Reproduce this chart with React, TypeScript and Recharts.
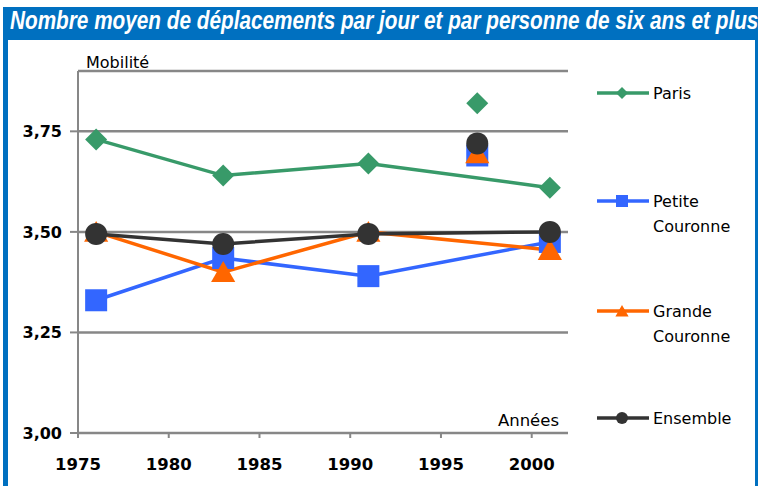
import { CartesianGrid, ComposedChart, Line, XAxis, YAxis } from 'recharts';

// Enquêtes globales transport, mobilité moyenne (déplacements / jour / personne)
const years = [1976, 1983, 1991, 2001];
const paris = [3.73, 3.64, 3.67, 3.61];
const petiteCouronne = [3.33, 3.435, 3.39, 3.475];
const grandeCouronne = [3.5, 3.4, 3.5, 3.455];
const ensemble = [3.495, 3.47, 3.495, 3.5];

// 1997: separate survey, points only (not joined to the lines)
const year1997 = 1997;
const paris1997 = 3.82;
const petiteCouronne1997 = 3.69;
const grandeCouronne1997 = 3.695;
const ensemble1997 = 3.72;

const xTicks = [1975, 1980, 1985, 1990, 1995, 2000];
const yTicks = [3, 3.25, 3.5, 3.75];

type Shape = 'diamond' | 'square' | 'triangle' | 'circle';

const series: { key: string; name: string; color: string; shape: Shape }[] = [
  { key: 'paris', name: 'Paris', color: '#389a69', shape: 'diamond' },
  { key: 'petite', name: 'Petite Couronne', color: '#3366ff', shape: 'square' },
  { key: 'grande', name: 'Grande Couronne', color: '#ff6600', shape: 'triangle' },
  { key: 'ensemble', name: 'Ensemble', color: '#333333', shape: 'circle' }
];

const rows: Record<string, number>[] = years.map((year, i) => ({
  year,
  paris: paris[i],
  petite: petiteCouronne[i],
  grande: grandeCouronne[i],
  ensemble: ensemble[i]
}));
rows.push({
  year: year1997,
  paris97: paris1997,
  petite97: petiteCouronne1997,
  grande97: grandeCouronne1997,
  ensemble97: ensemble1997
});
rows.sort((a, b) => a.year - b.year);

const FONT = '"DejaVu Sans", sans-serif';
const BLUE_FRAME = '#0070c0';
const GREY = '#878787';

function Marker({ shape, color, cx, cy, r }: { shape: Shape; color: string; cx: number; cy: number; r: number }) {
  if (shape === 'diamond') {
    return <polygon points={`${cx},${cy - r} ${cx + r},${cy} ${cx},${cy + r} ${cx - r},${cy}`} fill={color} />;
  }
  if (shape === 'square') {
    return <rect x={cx - r} y={cy - r} width={r * 2} height={r * 2} fill={color} />;
  }
  if (shape === 'triangle') {
    return <polygon points={`${cx},${cy - r} ${cx + r * 1.1},${cy + r * 0.9} ${cx - r * 1.1},${cy + r * 0.9}`} fill={color} />;
  }
  return <circle cx={cx} cy={cy} r={r} fill={color} />;
}

function dotFor(shape: Shape, color: string) {
  return (props: any) => {
    const { cx, cy, index, value } = props;
    if (value == null || cy == null || Number.isNaN(cy)) return <g key={`d-${index}`} />;
    return (
      <g key={`d-${index}`}>
        <Marker shape={shape} color={color} cx={cx} cy={cy} r={11} />
      </g>
    );
  };
}

const legendRowY = [93, 201, 311, 418];

export default function App() {
  return (
    <div style={{ position: 'absolute', left: 0, top: 0, width: 758, height: 486, overflow: 'hidden', background: '#fff' }}>
      <div style={{ position: 'absolute', left: 3, top: 7, width: 760, height: 490, background: BLUE_FRAME }} />
      <div style={{ position: 'absolute', left: 8, top: 40, width: 747, height: 450, background: '#fff' }} />
      <div
        style={{
          position: 'absolute',
          left: 10,
          top: 8,
          whiteSpace: 'nowrap',
          color: '#fff',
          fontFamily: '"Liberation Sans", sans-serif',
          fontStyle: 'italic',
          fontWeight: 'bold',
          fontSize: 25,
          lineHeight: '25px',
          transform: 'scaleX(0.83)',
          transformOrigin: '0 0'
        }}
      >
        Nombre moyen de déplacements par jour et par personne de six ans et plus
      </div>

      <div style={{ position: 'absolute', left: 0, top: 0 }}>
        <ComposedChart width={758} height={486} data={rows} margin={{ top: 71, right: 190, bottom: 13, left: 18 }}>
          <CartesianGrid vertical={false} stroke={GREY} strokeWidth={2.5} />
          <XAxis
            dataKey="year"
            type="number"
            domain={[1975, 2002]}
            ticks={xTicks}
            height={40}
            stroke={GREY}
            strokeWidth={2}
            tickSize={5}
            tickMargin={20}
            tick={{ fill: '#000', fontSize: 16.5, fontWeight: 'bold', fontFamily: FONT }}
          />
          <YAxis
            type="number"
            domain={[3, 3.9]}
            ticks={yTicks}
            width={60}
            stroke={GREY}
            strokeWidth={2}
            tickSize={8}
            tickMargin={8}
            tickFormatter={(v: number) => v.toFixed(2).replace('.', ',')}
            tick={{ fill: '#000', fontSize: 16, fontWeight: 'bold', fontFamily: FONT }}
          />
          {series.map((s) => (
            <Line
              key={s.key}
              type="linear"
              dataKey={s.key}
              name={s.name}
              stroke={s.color}
              strokeWidth={3.5}
              connectNulls
              dot={dotFor(s.shape, s.color)}
              activeDot={false}
              isAnimationActive={false}
            />
          ))}
          {series.map((s) => (
            <Line
              key={`${s.key}97`}
              type="linear"
              dataKey={`${s.key}97`}
              name={`${s.name} 1997`}
              stroke="none"
              legendType="none"
              dot={dotFor(s.shape, s.color)}
              activeDot={false}
              isAnimationActive={false}
            />
          ))}
        </ComposedChart>
      </div>

      <div style={{ position: 'absolute', left: 86, top: 53, fontFamily: FONT, fontSize: 16, lineHeight: '20px', color: '#000' }}>
        Mobilité
      </div>
      <div style={{ position: 'absolute', right: 199, top: 411, fontFamily: FONT, fontSize: 16.5, lineHeight: '20px', color: '#000' }}>
        Années
      </div>

      {series.map((s, i) => (
        <div key={s.key} style={{ position: 'absolute', left: 596, top: legendRowY[i] - 12, height: 60 }}>
          <svg width={56} height={24} style={{ position: 'absolute', left: 0, top: 0 }}>
            <line x1={1} y1={12} x2={53} y2={12} stroke={s.color} strokeWidth={3.5} />
            <Marker shape={s.shape} color={s.color} cx={26} cy={12} r={6} />
          </svg>
          <div style={{ position: 'absolute', left: 57, top: 0, width: 100, fontFamily: FONT, fontSize: 16, lineHeight: '25px', color: '#000' }}>
            {s.name}
          </div>
        </div>
      ))}
    </div>
  );
}
